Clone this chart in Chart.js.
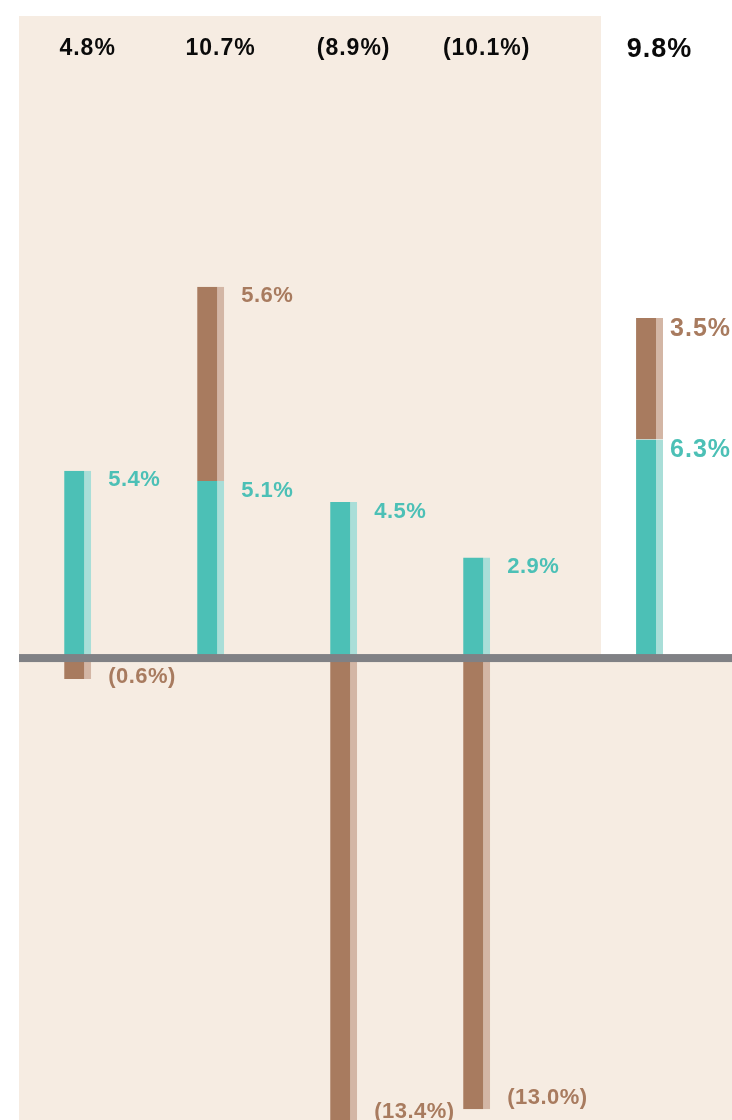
<!DOCTYPE html>
<html>
<head>
<meta charset="utf-8">
<script src="https://cdn.jsdelivr.net/npm/chart.js@4"></script>
<style>
  html, body { margin: 0; padding: 0; background: #fff; }
  #wrap { width: 732px; height: 1120px; position: relative; }
</style>
</head>
<body>
<div id="wrap"><canvas id="chart"></canvas></div>
<script>
const columns = ['1', '2', '3', '4', 'total'];
const incomeReturn = [5.4, 5.1, 4.5, 2.9, 6.3];
const capitalReturn = [-0.6, 5.6, -13.4, -13.0, 3.5];
const totalReturn = [4.8, 10.7, -8.9, -10.1, 9.8];

const TEAL = '#4cc0b6';
const TEAL_LIGHT = '#a9ded8';
const BROWN = '#a87b5f';
const BROWN_LIGHT = '#d3b6a5';
const SHADE = '#f6ece2';
const AXIS = '#808185';
const FONT = '"Liberation Sans", Arial, sans-serif';

// the total column sits a little further out than the others
const TOTAL_GAP = 0.3;
const SHADE_END = 3.935;
const last = columns.length - 1;
const slotX = i => i + (i === last ? TOTAL_GAP : 0);

const fmt = v => v < 0 ? '(' + Math.abs(v).toFixed(1) + '%)' : v.toFixed(1) + '%';

const shading = {
  id: 'shading',
  beforeDatasetsDraw(chart) {
    const { ctx, chartArea: a, scales: { x, y } } = chart;
    const zero = y.getPixelForValue(0);
    const split = x.getPixelForValue(SHADE_END);
    ctx.save();
    ctx.fillStyle = SHADE;
    ctx.fillRect(a.left, a.top, split - a.left, zero - a.top);
    ctx.fillRect(a.left, zero, a.right - a.left, a.bottom - zero);
    ctx.restore();
  }
};

const zeroLine = {
  id: 'zeroLine',
  afterDatasetsDraw(chart) {
    const { ctx, chartArea: a, scales: { y } } = chart;
    const zero = y.getPixelForValue(0);
    ctx.save();
    ctx.fillStyle = AXIS;
    ctx.fillRect(a.left, zero - 4, a.right - a.left, 8);
    ctx.restore();
  }
};

const valueLabels = {
  id: 'valueLabels',
  afterDraw(chart) {
    const { ctx, chartArea: a, scales: { y } } = chart;
    const zero = y.getPixelForValue(0);
    ctx.save();
    ctx.textBaseline = 'alphabetic';
    columns.forEach((c, i) => {
      const isTotal = i === last;
      const size = isTotal ? 25 : 22;
      const gap = isTotal ? 7 : 17;
      const colors = [TEAL, BROWN];
      ctx.font = 'bold ' + size + 'px ' + FONT;
      ctx.letterSpacing = isTotal ? '1px' : '0.5px';
      ctx.textAlign = 'left';
      [incomeReturn, capitalReturn].forEach((series, d) => {
        const el = chart.getDatasetMeta(d).data[i];
        const v = series[i];
        const tx = el.x + el.width / 2 + gap;
        let ty;
        if (v >= 0) {
          ty = el.y + size * 0.716;
        } else {
          ty = Math.max(el.y - 5, zero + 3 + size);
        }
        ctx.fillStyle = colors[d];
        ctx.fillText(fmt(v), tx, ty);
      });

      // total return above each column
      const el = chart.getDatasetMeta(0).data[i];
      const tsize = isTotal ? 27 : 23;
      ctx.font = 'bold ' + tsize + 'px ' + FONT;
      ctx.letterSpacing = '1px';
      ctx.textAlign = 'center';
      ctx.fillStyle = '#0a0a0a';
      ctx.fillText(fmt(totalReturn[i]), el.x + 10, a.top + (isTotal ? 41 : 39));
    });
    ctx.restore();
  }
};

const barStyle = {
  barThickness: 27,
  borderWidth: { top: 0, left: 0, bottom: 0, right: 7 },
  borderSkipped: false,
  inflateAmount: 0
};

new Chart(document.getElementById('chart'), {
  type: 'bar',
  data: {
    datasets: [
      Object.assign({
        label: 'Income',
        data: incomeReturn.map((v, i) => ({ x: slotX(i), y: v })),
        backgroundColor: TEAL,
        borderColor: TEAL_LIGHT
      }, barStyle),
      Object.assign({
        label: 'Capital',
        data: capitalReturn.map((v, i) => ({ x: slotX(i), y: v })),
        backgroundColor: BROWN,
        borderColor: BROWN_LIGHT
      }, barStyle)
    ]
  },
  options: {
    responsive: true,
    maintainAspectRatio: false,
    animation: false,
    layout: { padding: { left: 19, top: 16, right: 0, bottom: 0 } },
    scales: {
      x: { type: 'linear', stacked: true, offset: false, min: -0.441, max: 4.92, display: false },
      y: { stacked: true, min: -13.31, max: 18.5, display: false }
    },
    plugins: {
      legend: { display: false },
      tooltip: { enabled: false }
    }
  },
  plugins: [shading, zeroLine, valueLabels]
});
</script>
</body>
</html>
